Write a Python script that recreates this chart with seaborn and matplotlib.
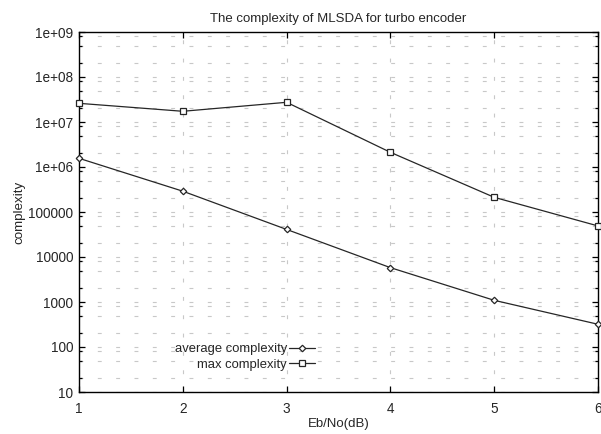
import matplotlib
matplotlib.use("Agg")
import matplotlib.pyplot as plt
from matplotlib.ticker import FixedLocator, LogLocator, NullFormatter
import seaborn as sns
import pandas as pd

# Eb/No operating points (dB)
ebno = [1, 2, 3, 4, 5, 6]

# Decoding complexity of MLSDA for the turbo encoder
avg_complexity = [1.56e6, 2.9e5, 4.1e4, 5.8e3, 1.09e3, 320]
max_complexity = [2.6e7, 1.73e7, 2.74e7, 2.12e6, 2.12e5, 4.9e4]

series_names = ["average complexity", "max complexity"]

y_ticks = [10, 100, 1000, 10000, 100000, 1e6, 1e7, 1e8, 1e9]
y_tick_labels = ["10", "100", "1000", "10000", "100000",
                 "1e+06", "1e+07", "1e+08", "1e+09"]
x_ticks = [1, 2, 3, 4, 5, 6]

title = "The complexity of MLSDA for turbo encoder"
x_label = "Eb/No(dB)"
y_label = "complexity"

sns.set_style("ticks")
plt.rcParams["font.family"] = ["Liberation Sans", "DejaVu Sans"]
plt.rcParams["font.size"] = 9.8

fig = plt.figure(figsize=(6.01, 4.34), dpi=100)
ax = fig.add_axes([79 / 601, 1 - 392 / 434, 519 / 601, 360 / 434])

df = pd.DataFrame({
    "ebno": ebno * 2,
    "complexity": avg_complexity + max_complexity,
    "series": [series_names[0]] * len(ebno) + [series_names[1]] * len(ebno),
})

line_color = "#262626"
styles = {
    series_names[0]: dict(marker="D", markersize=3.3),
    series_names[1]: dict(marker="s", markersize=5.0),
}
for name in series_names:
    sub = df[df["series"] == name]
    sns.lineplot(data=sub, x="ebno", y="complexity", ax=ax, label=name,
                 color=line_color, linewidth=0.9,
                 markerfacecolor="white", markeredgecolor=line_color,
                 markeredgewidth=0.9, clip_on=False, zorder=3,
                 **styles[name])

ax.set_yscale("log")
ax.set_xlim(1, 6)
ax.set_ylim(10, 1e9)

ax.xaxis.set_major_locator(FixedLocator(x_ticks))
ax.set_xticklabels([str(v) for v in x_ticks])
ax.yaxis.set_major_locator(FixedLocator(y_ticks))
ax.set_yticklabels(y_tick_labels)
ax.yaxis.set_minor_locator(LogLocator(base=10, subs=(2, 5, 8), numticks=20))
ax.yaxis.set_minor_formatter(NullFormatter())

ax.tick_params(which="both", direction="in", top=True, right=True,
               color="black", width=0.9)
ax.tick_params(which="major", length=4, labelsize=9.8)
ax.tick_params(axis="y", which="major", pad=4.3)
ax.tick_params(axis="x", which="major", pad=7.5)
ax.tick_params(which="minor", length=2.4)

grid_kw = dict(color="#c8c8c8", linewidth=0.8, linestyle=(0, (3.5, 13)))
ax.grid(True, axis="y", which="both", **grid_kw)
ax.grid(True, axis="x", which="major", **grid_kw)
ax.set_axisbelow(True)

for spine in ax.spines.values():
    spine.set_color("black")
    spine.set_linewidth(1.0)

ax.set_title(title, fontsize=9.5, pad=7)
ax.set_xlabel(x_label, fontsize=9.5, labelpad=1.5)
ax.set_ylabel(y_label, fontsize=9.6, labelpad=2)

leg = ax.legend(loc="upper right", bbox_to_anchor=((315 - 79) / 519, (392 - 343) / 360),
                frameon=False, markerfirst=False, borderpad=0, borderaxespad=0,
                handlelength=2.0, handletextpad=0.15, labelspacing=0.25,
                fontsize=9.4)
for col in leg._legend_handle_box.get_children():
    col.align = "right"

fig.savefig("out.png", dpi=100)
